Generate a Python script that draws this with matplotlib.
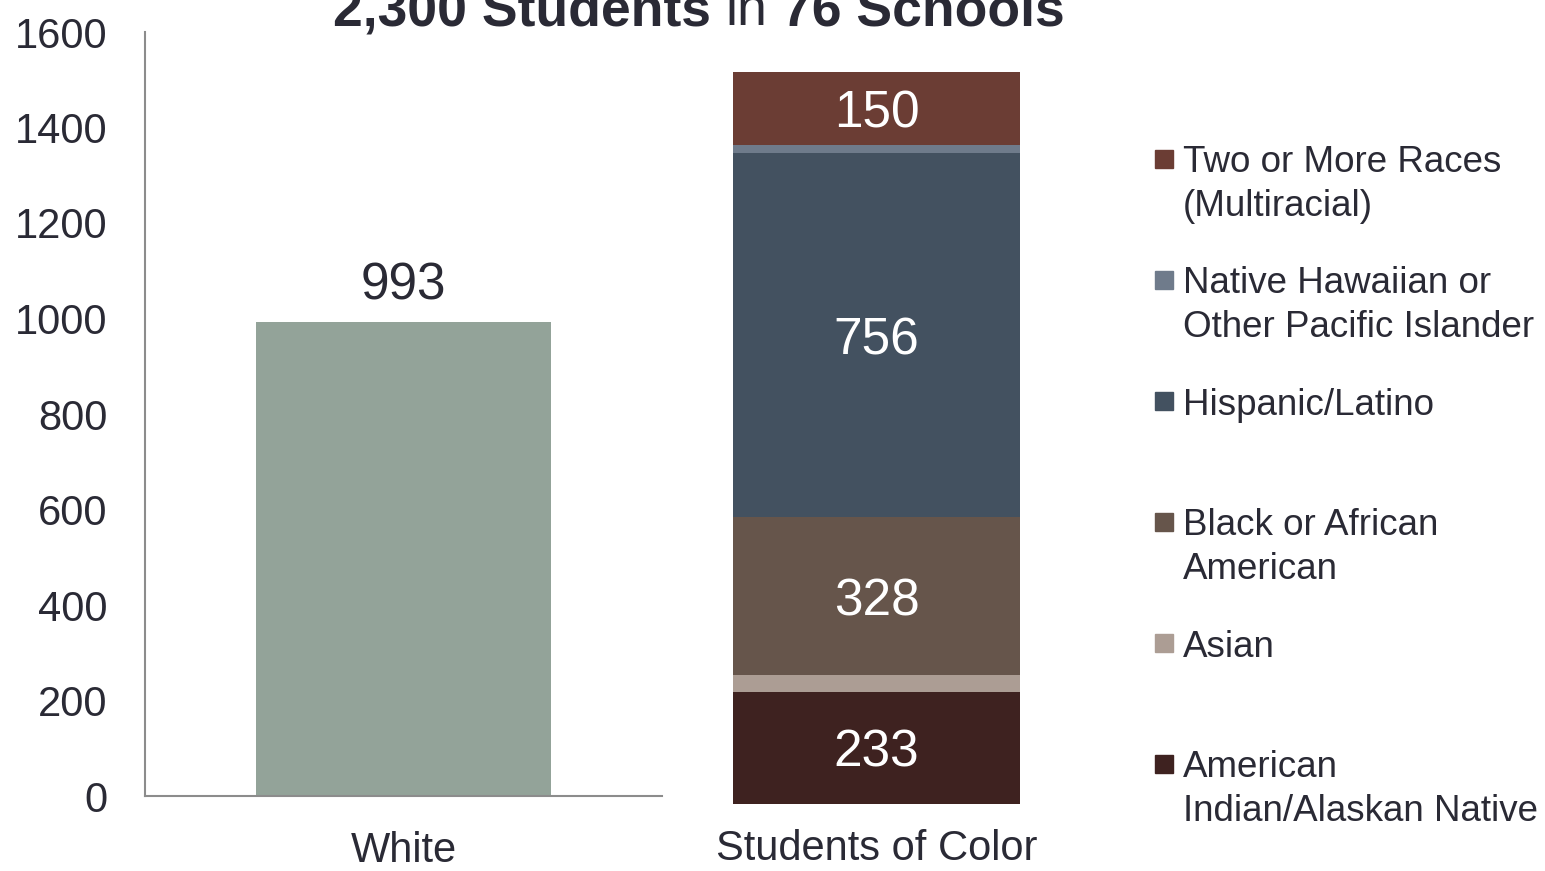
import matplotlib
matplotlib.use('Agg')
from matplotlib import pyplot as plt
from matplotlib.patches import Rectangle

plt.rcParams['font.family'] = ['Liberation Sans', 'DejaVu Sans']

W, H = 1545, 871
TEXT_COLOR = '#2a2a35'
SPINE_COLOR = '#8c8c8c'

title_parts = [('2,300 Students', 'bold'), ('in', 'normal'), ('76 Schools', 'bold')]

white_label = 'White'
white_count = 993
white_color = '#93a399'

color_label = 'Students of Color'
# stacked from the bottom up
groups = ['American\nIndian/Alaskan Native', 'Asian', 'Black or African\nAmerican',
          'Hispanic/Latino', 'Native Hawaiian or\nOther Pacific Islander',
          'Two or More Races\n(Multiracial)']
counts = [233, 35, 328, 756, 18, 150]
show_value = [True, False, True, True, False, True]
group_colors = ['#3e2220', '#ac9d94', '#66554b', '#435160', '#6f7b8b', '#6b3d34']

yticks = [0, 200, 400, 600, 800, 1000, 1200, 1400, 1600]


def box(x0, y0, x1, y1):
    # pixel box (top-left origin) -> figure rect
    return [x0 / W, 1 - y1 / H, (x1 - x0) / W, (y1 - y0) / H]


fig = plt.figure(figsize=(W / 100, H / 100), dpi=100)

# left panel: white students on a real axis
ax = fig.add_axes(box(145, 32, 662, 796))
ax.bar([0], [white_count], width=0.57, color=white_color)
ax.annotate(str(white_count), (0, white_count), xytext=(0, 16), textcoords='offset points',
            ha='center', va='baseline', fontsize=37, color=TEXT_COLOR)
ax.set_xlim(-0.5, 0.5)
ax.set_ylim(0, 1600)
ax.set_yticks(yticks)
ax.set_xticks([0])
ax.set_xticklabels([white_label])
for side in ['top', 'right']:
    ax.spines[side].set_visible(False)
for side in ['left', 'bottom']:
    ax.spines[side].set_color(SPINE_COLOR)
    ax.spines[side].set_linewidth(1.5)
ax.tick_params(length=0, labelsize=30, labelcolor=TEXT_COLOR)
ax.tick_params(axis='y', pad=27)
ax.tick_params(axis='x', pad=25)

# right panel: stacked students of colour
ax2 = fig.add_axes(box(733, 34, 1020, 804))
bottom = 0
for v, c, show in zip(counts, group_colors, show_value):
    ax2.bar([0], [v], bottom=bottom, width=1.0, color=c)
    if show:
        ax2.text(0, bottom + v / 2, str(v), ha='center', va='center_baseline',
                 fontsize=37, color='white')
    bottom += v
ax2.set_xlim(-0.5, 0.5)
ax2.set_ylim(0, 1600)
ax2.set_yticks([])
ax2.set_xticks([0])
ax2.set_xticklabels([color_label])
ax2.tick_params(length=0, labelsize=30, labelcolor=TEXT_COLOR, pad=18)
for s in ax2.spines.values():
    s.set_visible(False)
ax2.patch.set_alpha(0)

# legend, top entry first, evenly spaced; square sits beside the first line
LINE_PX = 43
for i, (g, c) in enumerate(zip(groups[::-1], group_colors[::-1])):
    base = 173 + 121 * i
    fig.patches.append(Rectangle((1155 / W, 1 - (base - 5) / H), 18 / W, 18 / H,
                                 transform=fig.transFigure, color=c))
    last_base = base + LINE_PX * g.count('\n')
    fig.text(1183 / W, 1 - last_base / H, g, ha='left', va='baseline', fontsize=26.5,
             color=TEXT_COLOR, linespacing=1.33)

# mixed-weight title
renderer = fig.canvas.get_renderer()


def text_width(s, weight):
    t = fig.text(0, 0, s, fontsize=38.5, fontweight=weight)
    w = t.get_window_extent(renderer).width
    t.remove()
    return w


space = text_width('x x', 'normal') - text_width('xx', 'normal')
widths = [text_width(s, wt) for s, wt in title_parts]
total = sum(widths) + space * (len(widths) - 1)
x = 699 - total / 2
for (s, wt), w in zip(title_parts, widths):
    fig.text(x / W, 1 - 25 / H, s, ha='left', va='baseline', fontsize=38.5,
             fontweight=wt, color=TEXT_COLOR)
    x += w + space

fig.savefig('out.png', dpi=100)
